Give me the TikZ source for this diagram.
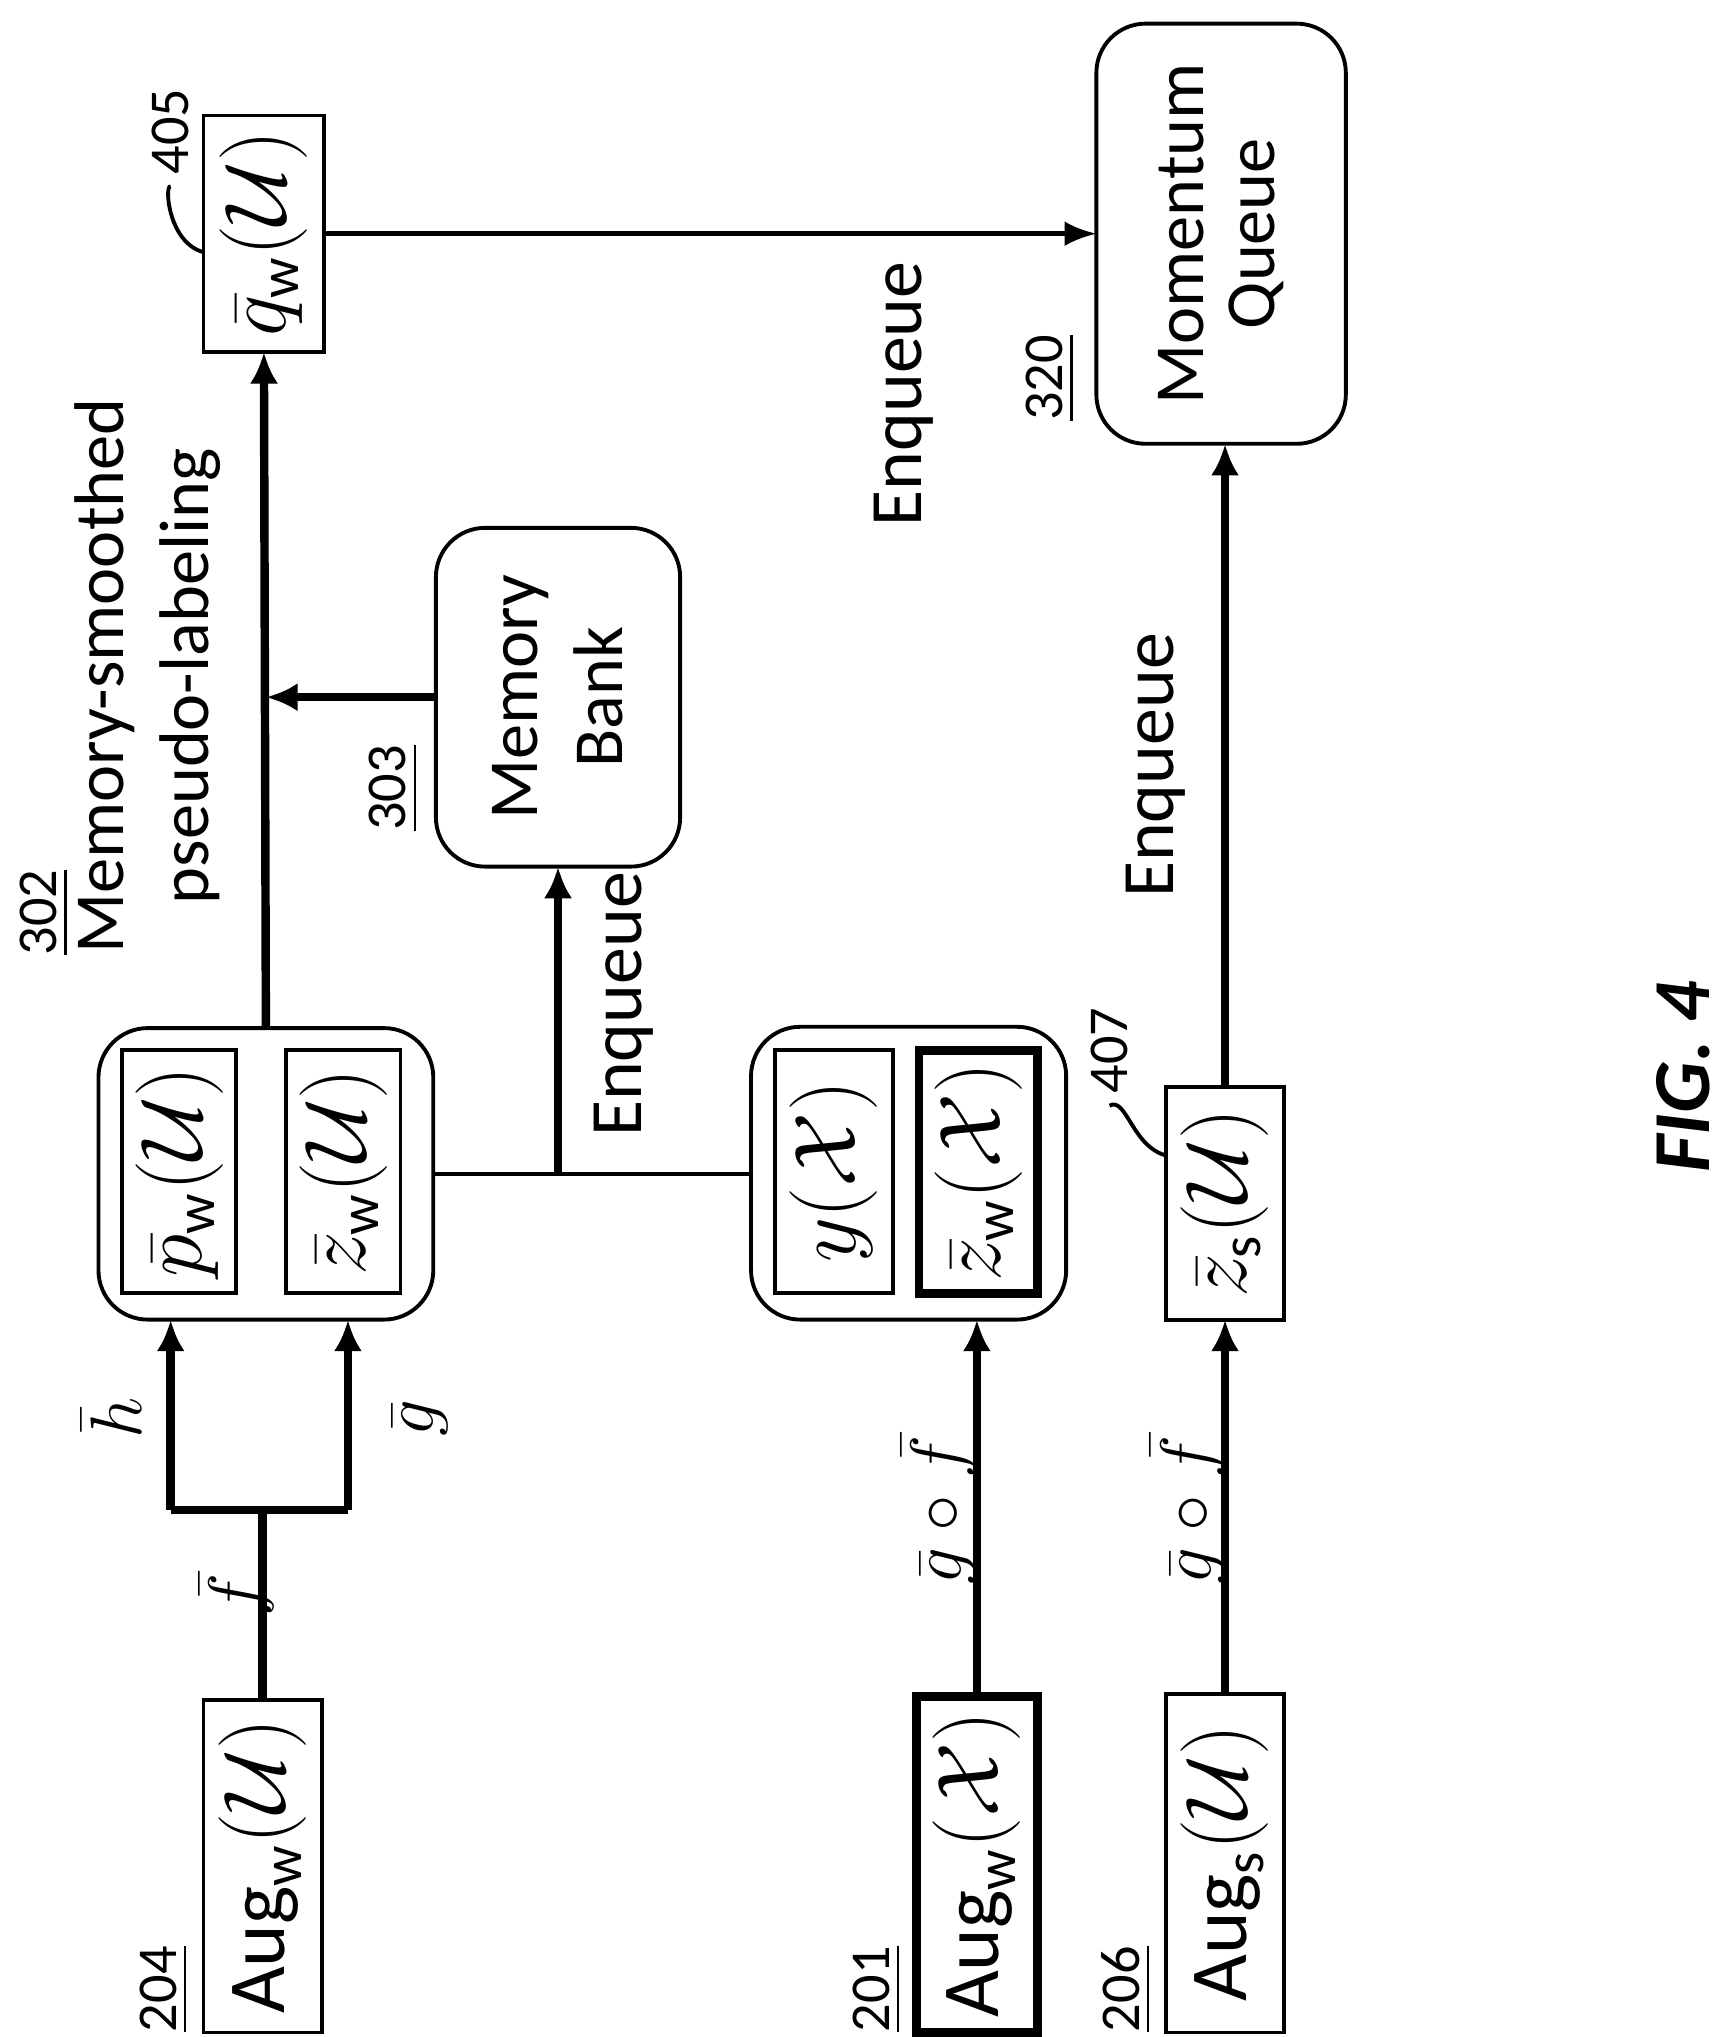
\documentclass[tikz,border=0pt]{standalone}
\usepackage{fontspec}
\usepackage{amsmath}
\setmainfont{Carlito}
\setsansfont{Carlito}
\usetikzlibrary{arrows.meta}
\def\u{0.01313cm}
\begin{document}
\begin{tikzpicture}[x=\u,y=-\u,
  bx/.style={draw,line width=1.1pt,inner sep=0,outer sep=0,rotate=90,font=\fontsize{23}{27}\selectfont},
  thk/.style={line width=2.4pt},
  rnd/.style={rounded corners=14pt},
  ln/.style={line width=1.1pt},
  ar/.style={line width=2.4pt,-{Latex[length=9pt,width=8pt]}},
  arthin/.style={line width=1.3pt,-{Latex[length=9pt,width=7pt]}},
  lab/.style={rotate=90,font=\fontsize{22}{26}\selectfont},
  big/.style={rotate=90,font=\fontsize{21}{25}\selectfont},
  num/.style={rotate=90,font=\fontsize{16}{19}\selectfont}]
\useasboundingbox (0,0) rectangle (1320.6,1551.4);
\newcommand{\B}[6]{\node[bx,#6,minimum width={#4*\u},minimum height={#3*\u}] (#1) at #2 {#5};}
\B{aug1}{(200,1421.5)}{90}{253}{$\mathrm{Aug}_{\mathrm{w}}(\mathcal{U})$}{}
\B{aug2}{(744,1420)}{92}{256}{$\mathrm{Aug}_{\mathrm{w}}(\mathcal{X})$}{thk}
\B{aug3}{(933,1419)}{90}{258}{$\mathrm{Aug}_{\mathrm{s}}(\mathcal{U})$}{}
\B{g1}{(202.5,894)}{255}{222}{}{rnd}
\B{p1}{(136.5,892.5)}{87}{185}{$\bar{p}_{\mathrm{w}}(\mathcal{U})$}{}
\B{z1}{(261.5,892.5)}{87}{185}{$\bar{z}_{\mathrm{w}}(\mathcal{U})$}{}
\B{g2}{(692,893.5)}{240}{223}{}{rnd}
\B{y2}{(635,892.5)}{90}{185}{$y(\mathcal{X})$}{}
\B{z2}{(745,892.5)}{90}{185}{$\bar{z}_{\mathrm{w}}(\mathcal{X})$}{thk}
\B{zs}{(933,916.5)}{90}{177}{$\bar{z}_{\mathrm{s}}(\mathcal{U})$}{}
\B{qw}{(201,178)}{92}{180}{$\bar{q}_{\mathrm{w}}(\mathcal{U})$}{}
\B{mb}{(425,531)}{186}{258}{\shortstack{Memory\\[4pt]Bank}}{rnd,font=\fontsize{20}{24}\selectfont}
\B{mq}{(930,178)}{190}{320}{\shortstack{Momentum\\[4pt]Queue}}{rnd,font=\fontsize{20}{24}\selectfont}
% labels
\node[num] (n204) at (125,1515) {\underline{204}};
\node[num] (n201) at (668,1515) {\underline{201}};
\node[num] (n206) at (858,1515) {\underline{206}};
\node[num] (n303) at (300,600) {\underline{303}};
\node[num] (n320) at (800,288) {\underline{320}};
\node[num] (n302) at (34,695) {\underline{302}};
\node[big,font=\fontsize{20}{24}\selectfont] (t302a) at (80,515) {Memory-smoothed};
\node[big,font=\fontsize{20}{24}\selectfont] (t302b) at (145,515) {pseudo-labeling};
\node[num] (n405) at (130,100) {405};
\node[num] (n407) at (845,800) {407};
\draw[ln] (155,192) .. controls (128,185) and (125,140) .. (n405.west);
\draw[ln] (888,880) .. controls (862,873) and (858,835) .. (n407.west);
% connectors
\coordinate (j1) at (200,1150);
\coordinate (jL) at (130,1150);
\coordinate (jR) at (265,1150);
\draw[thk] (aug1.east) -- (j1);
\draw[thk] (jL) -- (jR);
\draw[ar] (jL) -- (jL |- g1.west);
\draw[ar] (jR) -- (jR |- g1.west);
\draw[ar] (aug2.east) -- (g2.west -| aug2.east);
\draw[ar] (aug3.east) -- (zs.west);
\draw[ar] (g1.east) -- (qw.west);
\draw[ar] (mb.north) -- (g1.east |- mb.north);
\coordinate (jm) at (mb.west |- g1.south);
\draw[ln] (g1.south) -- (g2.north |- g1.south);
\draw[ar] (jm) -- (mb.west);
\draw[ar] (zs.east) -- (zs.east |- mq.west);
\draw[arthin] (qw.south) -- (qw.south -| mq.north);
% edge labels
\node[lab] (lf) at (180,1215) {$\bar{f}$};
\node[lab] (lh) at (85,1080) {$\bar{h}$};
\node[lab] (lg) at (320,1080) {$\bar{g}$};
\node[lab] (lgf1) at (715,1150) {$\bar{g}\circ\bar{f}$};
\node[lab] (lgf2) at (905,1150) {$\bar{g}\circ\bar{f}$};
\node[big] (e1) at (475,765) {Enqueue};
\node[big] (e2) at (880,583) {Enqueue};
\node[big] (e3) at (688,300) {Enqueue};
\node[rotate=90,font=\fontsize{23}{26}\selectfont\bfseries\itshape] (fig) at (1282,820) {FIG. 4};
\end{tikzpicture}
\end{document}
